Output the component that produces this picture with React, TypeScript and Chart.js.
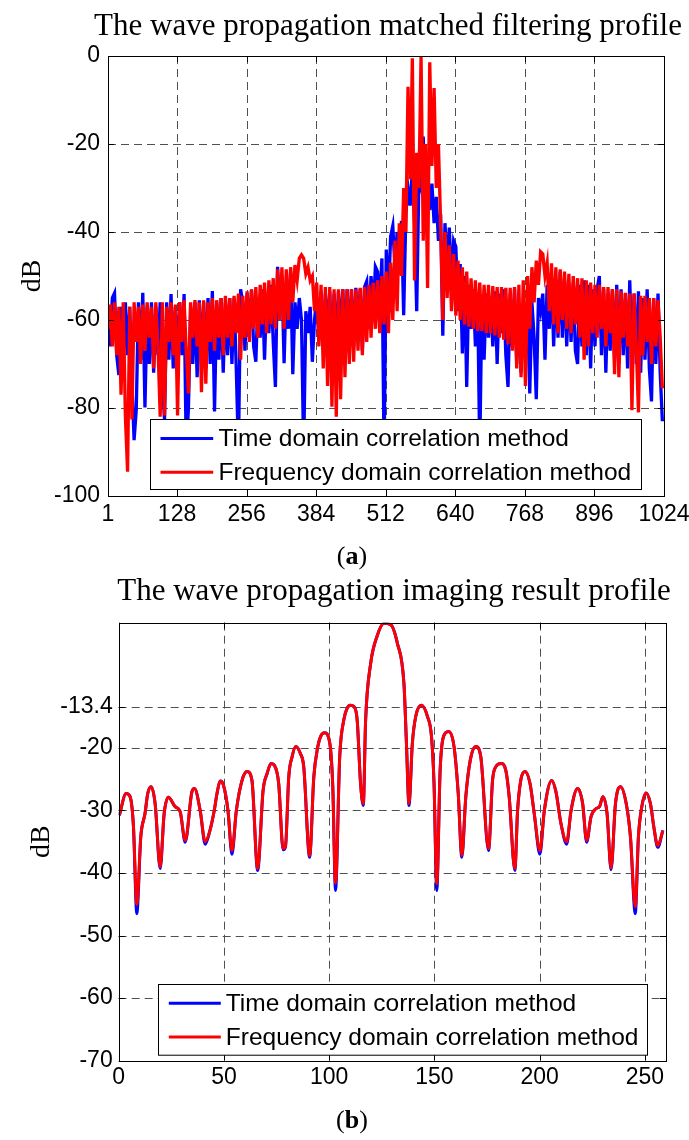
import React, { useEffect, useRef } from "react";
import { Chart, registerables } from "chart.js";

Chart.register(...registerables);

// ---------- (a) matched filtering profile: one value every 4 samples ----------
const topSampleStep = 4;
const topXTicks = [1, 128, 256, 384, 512, 640, 768, 896, 1024];
const topYTicks = [-100, -80, -60, -40, -20, 0];

const topFreqDomain = [
  -62, -56.5, -66, -56, -68, -57, -77, -56, -82, -94.5, -57, -82.6, -56, -65, -57, -70,
  -56.5, -67, -56, -64, -57, -71, -56, -66, -82, -56, -81.7, -57, -65, -56, -68, -56.5,
  -81.7, -56, -65, -55.5, -67, -76.7, -56, -64, -55.5, -66, -56, -76.4, -55.5, -74.5, -56, -65,
  -55, -67, -55.5, -64, -55, -68, -54.5, -64, -55, -66, -54.5, -63, -54, -69, -54.5, -64,
  -53.5, -65, -53, -62, -52.5, -64, -52, -61, -51.5, -63, -51, -61, -50.5, -62, -48.5, -60,
  -48, -62, -48.5, -60, -48, -56, -47.5, -51, -46, -45.2, -46, -49.5, -48, -51, -50, -58,
  -51.5, -66, -52, -71, -52.5, -75, -52.5, -79.7, -53, -82, -53, -78, -53, -73, -53, -70,
  -53, -69.5, -53, -67, -52.7, -68, -52.5, -65, -52, -64, -51.5, -62, -51, -63, -50, -61,
  -49, -63, -47, -60, -42, -58, -38, -50, -30, -40, -7, -28, -0.5, -51, -22, -30,
  0, -42, -20, -52.7, -1.4, -25, -7.3, -30, -20, -38, -60, -40, -55, -43, -58, -45,
  -59, -46.5, -60, -48, -61, -49, -61.5, -50.5, -62, -51, -62.5, -51.5, -62.5, -52, -63, -52,
  -63, -52.3, -63.5, -52.5, -64, -52.5, -64.5, -52.7, -65.5, -52.7, -67, -52.5, -71, -52, -73, -51,
  -75, -50, -62, -48, -56, -46.5, -52, -44.5, -45, -50, -47, -58, -47.1, -61, -48, -63,
  -48.5, -60, -49, -62, -49.5, -63, -50, -61, -50.5, -64, -50.5, -69, -51, -66, -51.5, -63,
  -52, -64, -52, -62, -52.5, -66, -52.5, -63, -53, -72.3, -53, -73, -53.5, -64, -53.8, -66,
  -54, -80.5, -54, -66, -81, -54.5, -68, -54.5, -65, -55, -70, -55, -66, -55.5, -64, -75.5,
];

const topTimeDomain = [
  -58, -66, -55, -53.9, -68, -72.5, -57, -70, -56, -68, -57, -74, -87.3, -80.4, -56, -69,
  -53.8, -79.9, -57, -70, -56, -72, -57, -68, -56, -74, -82.7, -56, -69, -54.1, -71, -57,
  -70, -56, -68, -54.1, -90, -80, -57, -70, -56, -73, -55.5, -69, -56, -71, -55, -70,
  -53.4, -80.8, -56, -69, -55, -72, -56, -68, -55, -70, -55, -71, -90, -53, -56, -67,
  -54, -62, -53.2, -66, -69.5, -55, -64, -53, -69, -54, -63, -52, -65, -75.2, -47.9, -58,
  -50, -69.8, -52, -62, -49, -72.3, -56, -62, -55, -60, -90, -58, -63, -57, -69.5, -60,
  -55, -64, -53.5, -66, -54, -62, -53.5, -68, -54, -65, -53.5, -63, -53, -66, -53, -64.7,
  -53, -66, -52.7, -63, -53, -67, -52.5, -51.2, -62, -50, -58, -47.9, -49, -56, -46, -90,
  -44, -55, -41, -38.6, -48, -40, -44, -37.5, -58.9, -36, -30, -34, -26, -38, -58, -28,
  -30, -18.3, -32, -26, -35, -29, -38, -32, -42, -36, -63.6, -38, -48, -39, -52, -42,
  -43.3, -58, -47.3, -67.6, -50, -75.2, -52, -62, -53, -66, -54, -90, -55, -69, -54, -64,
  -55, -66, -53.5, -70, -54, -63, -53, -68, -75.2, -54, -66, -53, -70, -56, -72, -58,
  -62, -58, -76.7, -56, -64, -78, -55, -58, -54, -69, -52, -62, -50, -66, -51, -64,
  -49, -64, -51, -66, -52, -65, -51.5, -67, -70, -52, -66, -51, -68, -52, -71, -53,
  -66, -53, -50, -68, -53, -72, -54, -67, -53, -69, -52, -70, -53, -68, -54, -71,
  -51, -68, -54, -70, -53.5, -72, -55, -69, -53, -71, -78.5, -55, -70, -54, -72, -83,
];

const topSamples = topFreqDomain.map((_, i) => 1 + i * topSampleStep);

// ---------- (b) imaging result profile ----------
const bottomXTicks = [0, 50, 100, 150, 200, 250];
const bottomYTicks = [-70, -60, -50, -40, -30, -20, -13.4];

const bottomX = [
  0.3, 3.5, 5.4, 7.0, 8.6, 10.5, 12.5, 13.8, 15.4, 17.3,
  19.7, 21.6, 23.6, 26.8, 29.2, 31.6, 34.8, 36.0, 38.7, 41.1,
  43.2, 45.4, 46.7, 48.2, 49.8, 51.9, 53.8, 55.9, 58.6, 61.0,
  63.3, 66.0, 68.6, 70.5, 72.4, 74.0, 76.0, 78.1, 79.2, 80.8,
  82.4, 84.1, 86.3, 87.9, 90.7, 92.7, 94.6, 95.9, 97.8, 100.3,
  101.7, 103.0, 105.0, 106.9, 108.5, 110.1, 111.7, 113.3, 114.9, 116.2,
  117.3, 119.7, 122.9, 126.0, 129.2, 132.4, 135.5, 136.7, 137.9, 139.5,
  141.1, 143.8, 146.7, 148.6, 149.8, 151.1, 152.7, 154.3, 156.7, 159.3,
  161.3, 163.0, 164.9, 167.0, 169.7, 172.0, 175.7, 177.6, 179.2, 181.6,
  183.9, 185.5, 188.2, 189.5, 191.0, 193.0, 195.4, 197.4, 200.1, 202.2,
  205.7, 207.7, 210.1, 212.8, 214.9, 218.0, 220.4, 222.3, 224.4, 226.8,
  228.4, 230.0, 232.0, 233.9, 236.0, 238.4, 241.1, 243.1, 245.4, 246.9,
  248.5, 250.5, 252.6, 254.2, 256.1, 258.5,
];

const bottomFreqDomain = [
  -30.8, -27.3, -27.8, -32.5, -45.0, -34.2, -30.5, -27.3, -26.2, -28.9,
  -39.0, -30.5, -27.9, -29.4, -30.2, -34.8, -27.0, -26.5, -30.0, -35.0,
  -33.4, -30.0, -27.3, -25.3, -26.0, -30.0, -36.4, -30.0, -25.2, -23.8,
  -25.2, -39.3, -26.8, -24.1, -22.5, -22.8, -25.7, -36.1, -35.8, -24.6,
  -21.4, -19.8, -20.9, -23.0, -37.2, -24.6, -19.8, -18.2, -17.6, -19.3,
  -26.2, -41.6, -21.4, -15.6, -13.7, -13.2, -13.4, -15.6, -25.7, -28.9,
  -15.6, -6.5, -2.0, -0.1, -0.3, -3.3, -9.7, -19.3, -28.9, -19.3,
  -15.0, -13.2, -15.0, -18.2, -25.7, -41.7, -23.6, -18.2, -17.4, -19.8,
  -27.3, -37.2, -27.8, -22.0, -19.8, -21.4, -36.1, -25.2, -23.0, -22.5,
  -23.6, -27.8, -39.3, -30.0, -25.2, -23.8, -25.7, -30.5, -36.4, -30.0,
  -25.2, -27.0, -32.1, -35.0, -30.0, -26.5, -28.9, -34.8, -31.0, -29.7,
  -29.4, -27.8, -30.5, -39.2, -28.9, -26.2, -28.9, -34.2, -45.4, -34.2,
  -29.4, -27.2, -28.9, -32.6, -35.6, -33.2,
];

const bottomTimeDomain = [
  -30.8, -27.3, -27.8, -32.5, -46.5, -34.2, -30.5, -27.3, -26.2, -28.9,
  -39.3, -30.5, -27.9, -29.4, -30.2, -35.1, -27.0, -26.5, -30.0, -35.4,
  -33.4, -30.0, -27.3, -25.3, -26.0, -30.0, -37.0, -30.0, -25.2, -23.8,
  -25.2, -39.6, -26.8, -24.1, -22.5, -22.8, -25.7, -36.3, -35.9, -24.6,
  -21.4, -19.8, -20.9, -23.0, -37.5, -24.6, -19.8, -18.2, -17.6, -19.3,
  -26.2, -42.8, -21.4, -15.6, -13.7, -13.2, -13.4, -15.6, -25.7, -29.2,
  -15.6, -6.5, -2.0, -0.1, -0.3, -3.3, -9.7, -19.3, -29.2, -19.3,
  -15.0, -13.2, -15.0, -18.2, -25.7, -42.8, -23.6, -18.2, -17.4, -19.8,
  -27.3, -37.5, -27.8, -22.0, -19.8, -21.4, -36.4, -25.2, -23.0, -22.5,
  -23.6, -27.8, -39.6, -30.0, -25.2, -23.8, -25.7, -30.5, -37.0, -30.0,
  -25.2, -27.0, -32.1, -35.4, -30.0, -26.5, -28.9, -35.1, -31.0, -29.7,
  -29.4, -27.8, -30.5, -39.5, -28.9, -26.2, -28.9, -34.2, -46.5, -34.2,
  -29.4, -27.2, -28.9, -32.6, -35.9, -33.2,
];

const seriesNames = ["Time domain correlation method", "Frequency domain correlation method"];
const seriesColors = ["#0000ff", "#ff0000"];

const SANS = '"Liberation Sans", Arial, sans-serif';
const SERIF = '"Liberation Serif", "Times New Roman", serif';

type LegendSpec = { dx: number; dyTop: number; w: number; h: number; rows: number[]; lineX0: number; lineX1: number; textX: number };
type Spec = {
  xMin: number; xMax: number; yMin: number; yMax: number;
  xTicks: number[]; yTicks: number[];
  areaTop: number; padRight: number; axisLeft: number; axisBottom: number;
  xTickPad: number; yTickPad: number;
  lineWidth: number; tension: number; mono: boolean;
  title: string; titleX: number; titleY: number;
  caption: string; captionX: number; captionY: number;
  yTitleX: number; yTitleY: number;
  legend: LegendSpec;
  blue: { x: number; y: number }[];
  red: { x: number; y: number }[];
};

function decorPlugin(spec: Spec) {
  return {
    id: "decor",
    beforeDatasetsDraw(chart: any) {
      const { ctx, chartArea: a } = chart;
      const xs = chart.scales.x;
      const ys = chart.scales.y;
      ctx.save();
      ctx.strokeStyle = "#505050";
      ctx.lineWidth = 1;
      ctx.setLineDash([8, 5]);
      spec.xTicks.forEach((v) => {
        const x = Math.round(xs.getPixelForValue(v)) + 0.5;
        if (x <= a.left + 1 || x >= a.right - 1) return;
        ctx.beginPath();
        ctx.moveTo(x, a.top);
        ctx.lineTo(x, a.bottom);
        ctx.stroke();
      });
      spec.yTicks.forEach((v) => {
        const y = Math.round(ys.getPixelForValue(v)) + 0.5;
        if (y <= a.top + 1 || y >= a.bottom - 1) return;
        ctx.beginPath();
        ctx.moveTo(a.left, y);
        ctx.lineTo(a.right, y);
        ctx.stroke();
      });
      ctx.restore();
    },
    afterDraw(chart: any) {
      const { ctx, chartArea: a } = chart;
      const xs = chart.scales.x;
      const ys = chart.scales.y;
      ctx.save();
      ctx.setLineDash([]);
      // inner tick marks
      ctx.strokeStyle = "#000";
      ctx.lineWidth = 1;
      const tl = 6;
      spec.xTicks.forEach((v) => {
        const x = Math.round(xs.getPixelForValue(v)) + 0.5;
        ctx.beginPath();
        ctx.moveTo(x, a.bottom);
        ctx.lineTo(x, a.bottom - tl);
        ctx.moveTo(x, a.top);
        ctx.lineTo(x, a.top + tl);
        ctx.stroke();
      });
      spec.yTicks.forEach((v) => {
        const y = Math.round(ys.getPixelForValue(v)) + 0.5;
        ctx.beginPath();
        ctx.moveTo(a.left, y);
        ctx.lineTo(a.left + tl, y);
        ctx.moveTo(a.right, y);
        ctx.lineTo(a.right - tl, y);
        ctx.stroke();
      });
      // legend
      const L = spec.legend;
      const lx = Math.round(a.left + L.dx) + 0.5;
      const ly = Math.round(a.bottom - L.dyTop) + 0.5;
      ctx.fillStyle = "#fff";
      ctx.fillRect(lx, ly, L.w, L.h);
      ctx.strokeStyle = "#000";
      ctx.lineWidth = 1;
      ctx.strokeRect(lx, ly, L.w, L.h);
      ctx.font = `24.5px ${SANS}`;
      ctx.textAlign = "left";
      ctx.textBaseline = "middle";
      seriesNames.forEach((name, i) => {
        const ry = ly + L.rows[i];
        ctx.strokeStyle = seriesColors[i];
        ctx.lineWidth = 3;
        ctx.beginPath();
        ctx.moveTo(lx + L.lineX0, ry);
        ctx.lineTo(lx + L.lineX1, ry);
        ctx.stroke();
        ctx.fillStyle = "#000";
        ctx.fillText(name, lx + L.textX, ry + 1);
      });
      // frame
      ctx.strokeStyle = "#000";
      ctx.lineWidth = 1;
      ctx.strokeRect(Math.round(a.left) + 0.5, Math.round(a.top) + 0.5, Math.round(a.right - a.left), Math.round(a.bottom - a.top));
      // title
      ctx.fillStyle = "#000";
      ctx.font = `31px ${SERIF}`;
      ctx.textAlign = "center";
      ctx.textBaseline = "alphabetic";
      ctx.fillText(spec.title, spec.titleX, spec.titleY);
      // caption "(a)" with bold letter
      const fN = `26px ${SERIF}`;
      const fB = `bold 26px ${SERIF}`;
      ctx.font = fN;
      const wp = ctx.measureText("(").width;
      const wq = ctx.measureText(")").width;
      ctx.font = fB;
      const wl = ctx.measureText(spec.caption).width;
      let cx = spec.captionX - (wp + wl + wq) / 2;
      ctx.textAlign = "left";
      ctx.font = fN;
      ctx.fillText("(", cx, spec.captionY);
      cx += wp;
      ctx.font = fB;
      ctx.fillText(spec.caption, cx, spec.captionY);
      cx += wl;
      ctx.font = fN;
      ctx.fillText(")", cx, spec.captionY);
      // y axis title
      ctx.translate(spec.yTitleX, spec.yTitleY);
      ctx.rotate(-Math.PI / 2);
      ctx.font = `28px ${SERIF}`;
      ctx.textAlign = "center";
      ctx.textBaseline = "middle";
      ctx.fillText("dB", 0, 0);
      ctx.restore();
    },
  };
}

function buildChart(canvas: HTMLCanvasElement, spec: Spec) {
  const tickFont = { family: SANS, size: 23 };
  return new Chart(canvas, {
    type: "line",
    data: {
      datasets: [
        {
          label: seriesNames[1],
          data: spec.red,
          borderColor: seriesColors[1],
          borderWidth: spec.lineWidth,
          pointRadius: 0,
          tension: spec.tension,
          cubicInterpolationMode: spec.mono ? "monotone" : "default",
          fill: false,
          order: 0,
        },
        {
          label: seriesNames[0],
          data: spec.blue,
          borderColor: seriesColors[0],
          borderWidth: spec.lineWidth,
          pointRadius: 0,
          tension: spec.tension,
          cubicInterpolationMode: spec.mono ? "monotone" : "default",
          fill: false,
          order: 1,
        },
      ],
    },
    options: {
      responsive: false,
      animation: false,
      devicePixelRatio: 1,
      events: [],
      layout: { padding: { top: spec.areaTop, right: spec.padRight, left: 0, bottom: 0 } },
      plugins: { legend: { display: false }, tooltip: { enabled: false }, title: { display: false } },
      scales: {
        x: {
          type: "linear",
          position: "bottom",
          min: spec.xMin,
          max: spec.xMax,
          grid: { display: false, drawTicks: false },
          border: { display: false },
          ticks: {
            autoSkip: false,
            maxRotation: 0,
            minRotation: 0,
            padding: spec.xTickPad,
            color: "#000",
            font: tickFont,
            callback: (v: any) => String(v),
          },
          afterBuildTicks: (s: any) => {
            s.ticks = spec.xTicks.map((v) => ({ value: v }));
          },
          afterFit: (s: any) => {
            s.height = spec.axisBottom;
            s.paddingLeft = 0;
            s.paddingRight = 0;
          },
        },
        y: {
          type: "linear",
          position: "left",
          min: spec.yMin,
          max: spec.yMax,
          grid: { display: false, drawTicks: false },
          border: { display: false },
          ticks: {
            autoSkip: false,
            padding: spec.yTickPad,
            color: "#000",
            font: tickFont,
            callback: (v: any) => String(v),
          },
          afterBuildTicks: (s: any) => {
            s.ticks = spec.yTicks.map((v) => ({ value: v }));
          },
          afterFit: (s: any) => {
            s.width = spec.axisLeft;
            s.paddingTop = 0;
            s.paddingBottom = 0;
          },
        },
      },
    } as any,
    plugins: [decorPlugin(spec)],
  } as any);
}

const topSpec: Spec = {
  xMin: 1, xMax: 1024, yMin: -100, yMax: 0,
  xTicks: topXTicks, yTicks: topYTicks,
  areaTop: 56, padRight: 25, axisLeft: 108, axisBottom: 74,
  xTickPad: 5, yTickPad: 8,
  lineWidth: 3.3, tension: 0, mono: false,
  title: "The wave propagation matched filtering profile", titleX: 388, titleY: 35,
  caption: "a", captionX: 352, captionY: 564,
  yTitleX: 33, yTitleY: 276,
  legend: { dx: 42, dyTop: 77, w: 491, h: 70, rows: [19, 52.7], lineX0: 10, lineX1: 62.7, textX: 68 },
  blue: topSamples.map((s, i) => ({ x: s, y: topTimeDomain[i] })),
  red: topSamples.map((s, i) => ({ x: s, y: topFreqDomain[i] })),
};

const bottomSpec: Spec = {
  xMin: 0, xMax: 260, yMin: -70, yMax: 0,
  xTicks: bottomXTicks, yTicks: bottomYTicks,
  areaTop: 52.7, padRight: 23, axisLeft: 118.7, axisBottom: 79.3,
  xTickPad: 3, yTickPad: 6,
  lineWidth: 3, tension: 0, mono: true,
  title: "The wave propagation imaging result profile", titleX: 394, titleY: 30,
  caption: "b", captionX: 352, captionY: 558,
  yTitleX: 42, yTitleY: 271.7,
  legend: { dx: 39, dyTop: 76.4, w: 489, h: 70.7, rows: [18.7, 52.4], lineX0: 10.3, lineX1: 62.3, textX: 67.3 },
  blue: bottomX.map((x, i) => ({ x, y: bottomTimeDomain[i] })),
  red: bottomX.map((x, i) => ({ x, y: bottomFreqDomain[i] })),
};

export default function App() {
  const topRef = useRef<HTMLCanvasElement>(null);
  const botRef = useRef<HTMLCanvasElement>(null);
  useEffect(() => {
    const c1 = buildChart(topRef.current as HTMLCanvasElement, topSpec);
    const c2 = buildChart(botRef.current as HTMLCanvasElement, bottomSpec);
    return () => {
      c1.destroy();
      c2.destroy();
    };
  }, []);
  return (
    <div style={{ position: "absolute", left: 0, top: 0, width: 689, height: 1140, background: "#fff", overflow: "hidden" }}>
      <canvas ref={topRef} width={689} height={570} style={{ position: "absolute", left: 0, top: 0, width: 689, height: 570 }} />
      <canvas ref={botRef} width={689} height={570} style={{ position: "absolute", left: 0, top: 570, width: 689, height: 570 }} />
    </div>
  );
}
